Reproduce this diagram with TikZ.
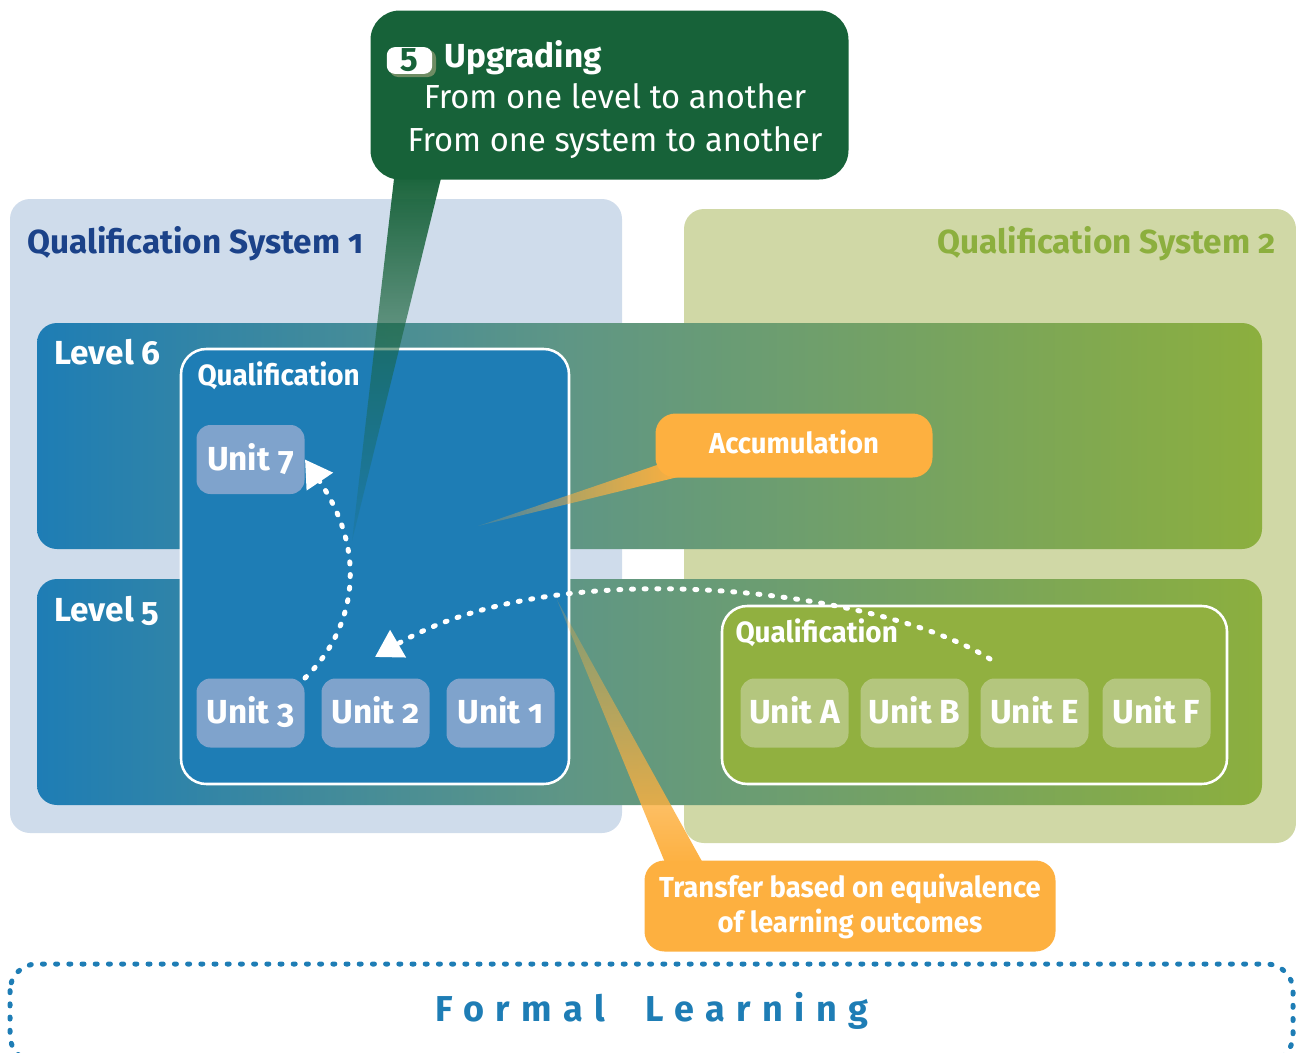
\documentclass[tikz,border=0pt]{standalone}
\usepackage{fontspec}
\setmainfont[Numbers=OldStyle]{Fira Sans}
\newfontfamily\spacedfont[Numbers=OldStyle,LetterSpace=32]{Fira Sans}
\newfontfamily\narrowfont[Numbers=OldStyle,FakeStretch=0.95]{Fira Sans}
\newfontfamily\linefont[Numbers=OldStyle,FakeStretch=0.98]{Fira Sans}
\usetikzlibrary{arrows.meta,fadings}

\definecolor{sysblue}{HTML}{CFDCEB}
\definecolor{sysgreen}{HTML}{D0D8A6}
\definecolor{lvlblue}{HTML}{1E7DB5}
\definecolor{lvlmid}{HTML}{5F9685}
\definecolor{lvlgreen}{HTML}{8CAF3E}
\definecolor{qualgreen}{HTML}{91B040}
\definecolor{titleblue}{HTML}{1B4289}
\definecolor{unitblue}{HTML}{7FA3CC}
\definecolor{unitgreen}{HTML}{B4C67E}
\definecolor{calloutorange}{HTML}{FDB040}
\definecolor{calloutgreen}{HTML}{176239}
\definecolor{badgeshadow}{HTML}{6E8C63}

\pgfdeclarehorizontalshading{levelband}{100bp}{color(0bp)=(lvlblue); color(25bp)=(lvlblue); color(46.7bp)=(lvlmid); color(75bp)=(lvlgreen); color(100bp)=(lvlgreen)}

\tikzfading[name=upgradefade, top color=transparent!0, middle color=transparent!45, bottom color=transparent!92]
\tikzfading[name=accumfade, left color=transparent!85, middle color=transparent!25, right color=transparent!0]
\tikzfading[name=transferfade, top color=transparent!80, middle color=transparent!15, bottom color=transparent!0]

\tikzset{every picture/.style={line width=0.75pt}}
\tikzset{
	unitbox/.style={rounded corners=10.5pt,minimum width=81pt,minimum height=51.75pt,inner sep=0pt,text height=20pt,text depth=4.2pt,text=white,font=\bfseries\fontsize{25}{25}\selectfont,anchor=north west},
	unitone/.style={unitbox,fill=unitblue},
	unittwo/.style={unitbox,fill=unitgreen},
	title/.style={inner sep=0pt,font=\bfseries\fontsize{25}{25}\selectfont},
	levellabel/.style={inner sep=0pt,anchor=base west,text=white,font=\bfseries\fontsize{25}{25}\selectfont},
	quallabel/.style={inner sep=0pt,anchor=base west,text=white,font=\narrowfont\bfseries\fontsize{22}{22}\selectfont},
	orangebox/.style={rounded corners=15pt,fill=calloutorange,inner sep=0pt,text=white,anchor=north west,align=center,font=\narrowfont\bfseries\fontsize{21.7}{26.25}\selectfont},
	upgradeline/.style={inner sep=0pt,anchor=base,text=white,font=\linefont\fontsize{25}{25}\selectfont},
	dotarrow/.style={white,line width=3.75pt,line cap=round,dash pattern=on 1.5pt off 8pt,-{Triangle[length=20pt,width=23pt]}},
}

\begin{document}
\begin{tikzpicture}[x=0.75pt,y=0.75pt,yscale=-1,xscale=1]
	\clip (0,0) rectangle (1296,1053);
	
	%Shape: Qualification systems
	\fill [sysblue,rounded corners=15pt] (10,199) rectangle (622,833);
	\fill [sysgreen,rounded corners=15pt] (684,209) rectangle (1296,843);
	%Shape: Levels
	\shade [shading=levelband,rounded corners=15pt] (37,323) rectangle (1262,549);
	\shade [shading=levelband,rounded corners=15pt] (37,579) rectangle (1262,805);
	%Shape: Qualification boxes
	\draw [white,fill=lvlblue,line width=1.9pt,rounded corners=19pt] (181,349) rectangle (569,784);
	\draw [white,fill=qualgreen,line width=1.9pt,rounded corners=19pt] (722,606) rectangle (1227,784);
	
	% Text Node
	\node (titleone) [title,text=titleblue,anchor=base west] at (27,253) {Qualification System 1};
	\node (titletwo) [title,text=lvlgreen,anchor=base east] at (1276,253) {Qualification System 2};
	\node (levelsix) [levellabel] at (54,364) {Level 6};
	\node (levelfive) [levellabel] at (54,621) {Level 5};
	\node (qualone) [quallabel] at (197,385) {Qualification};
	\node (qualtwo) [quallabel] at (735,642) {Qualification};
	
	% Units
	\node (unitseven) [unitone] at (196,424.5) {Unit 7};
	\node (unitthree) [unitone] at (196,678) {Unit 3};
	\node (unittwo) [unitone] at (321,678) {Unit 2};
	\node (unitfirst) [unitone] at (446,678) {Unit 1};
	\node (unita) [unittwo] at (740,678) {Unit A};
	\node (unitb) [unittwo] at (860,678) {Unit B};
	\node (unite) [unittwo] at (980,678) {Unit E};
	\node (unitf) [unittwo] at (1102,678) {Unit F};
	
	%Shape: Callout tails
	\fill [calloutgreen,path fading=upgradefade] (395,170) -- (443,170) -- (352,541) -- cycle;
	\fill [calloutorange,path fading=accumfade] (478,526) -- (660,464) -- (682,476) -- cycle;
	\fill [calloutorange,path fading=transferfade] (557,600) -- (704,865) -- (666,865) -- cycle;
	
	% Dotted arrows
	\coordinate (fromunite) at (990,659);
	\coordinate (tounittwo) at (375,657);
	\draw [dotarrow] (unitthree.north east) .. controls (345,640) and (376,565) .. (unitseven.east);
	\draw [dotarrow] (fromunite) .. controls (880,590) and (560,550) .. (tounittwo);
	
	% Callouts
	\node (accum) [orangebox,minimum width=207.75pt,minimum height=48pt,text height=16pt,text depth=4pt] at (655,413) {Accumulation};
	\node (transfer) [orangebox,minimum width=308.25pt,minimum height=68.25pt] at (644,860) {Transfer based on equivalence\\of learning outcomes};
	\node (upgrade) [fill=calloutgreen,rounded corners=22pt,minimum width=358.5pt,minimum height=126.75pt,inner sep=0pt,anchor=north west] at (370,10) {};
	\fill [badgeshadow,rounded corners=6pt] (390,50) rectangle (436,77);
	\node (badge) [fill=white,rounded corners=6pt,minimum width=34pt,minimum height=20pt,inner sep=0pt,text=calloutgreen,font=\bfseries\fontsize{25}{25}\selectfont] at (409.5,60.5) {5};
	\node (upgradetitle) [inner sep=0pt,anchor=base west,text=white,font=\bfseries\fontsize{25}{25}\selectfont] at (444,67) {Upgrading};
	\node (upgradeone) [upgradeline] at (615,108) {From one level to another};
	\node (upgradetwo) [upgradeline] at (615,151) {From one system to another};
	
	%Shape: Formal learning
	\draw [lvlblue,line width=3.75pt,line cap=round,dash pattern=on 1.5pt off 8.4pt,rounded corners=20pt] (10,964) rectangle (1293,1062);
	\node (formal) [inner sep=0pt,anchor=base,text=lvlblue,font=\spacedfont\bfseries\fontsize{27}{27}\selectfont] at (652,1021) {Formal\hspace{15pt} Learning};
\end{tikzpicture}
\end{document}
